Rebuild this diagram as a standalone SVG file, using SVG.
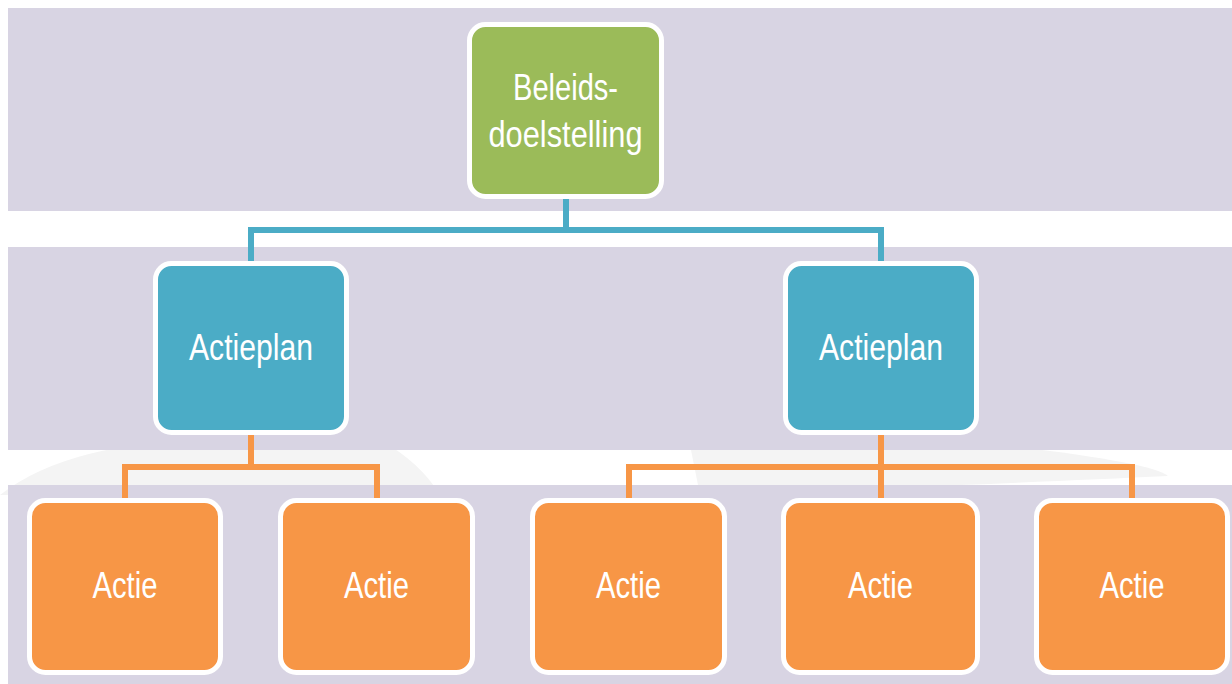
<svg xmlns="http://www.w3.org/2000/svg" width="1232" height="684" viewBox="0 0 1232 684">
<style>
.band{fill:#d8d4e3}
.node rect{stroke:#ffffff;stroke-width:5}
.green{fill:#9bbb59}
.blue{fill:#4bacc6}
.orange{fill:#f79646}
text{font-family:"Liberation Sans",Arial,sans-serif;font-size:36px;fill:#ffffff;text-anchor:middle}
.cb{stroke:#4bacc6;stroke-width:6;fill:none}
.co{stroke:#f79646;stroke-width:6;fill:none}
</style>
<rect x="0" y="0" width="1232" height="684" fill="#ffffff"/>
<g id="decor">
<path d="M0 495 Q70 440 220 440 L380 440 Q420 462 440 495 Z" fill="#f4f4f4"/>
<path d="M690 445 L1000 445 Q1150 462 1168 476 Q1000 484 700 495 Z" fill="#f4f4f4"/>
</g>
<g id="bands">
<rect class="band" x="8" y="8" width="1224" height="203"/>
<rect class="band" x="8" y="247" width="1224" height="203"/>
<rect class="band" x="8" y="485" width="1224" height="199"/>
</g>
<g id="connectors">
<path class="cb" d="M566 199 V230 M251 261 V230 H881 V261"/>
<path class="co" d="M251 435 V467 M125 498 V467 H377 V498"/>
<path class="co" d="M881 435 V467 M629 498 V467 H1132 V498 M881 467 V498"/>
</g>
<g id="n-beleid" class="node">
<rect class="green" x="469.5" y="24.5" width="192" height="172" rx="16"/>
<text x="565.5" y="100" textLength="105" lengthAdjust="spacingAndGlyphs">Beleids-</text>
<text x="565.5" y="147" textLength="154" lengthAdjust="spacingAndGlyphs">doelstelling</text>
</g>
<g id="n-plan1" class="node">
<rect class="blue" x="155.5" y="263.5" width="191" height="169" rx="16"/>
<text x="251" y="360" textLength="124" lengthAdjust="spacingAndGlyphs">Actieplan</text>
</g>
<g id="n-plan2" class="node">
<rect class="blue" x="785.5" y="263.5" width="191" height="169" rx="16"/>
<text x="881" y="360" textLength="124" lengthAdjust="spacingAndGlyphs">Actieplan</text>
</g>
<g id="n-actie1" class="node">
<rect class="orange" x="29.5" y="500.5" width="191" height="172" rx="16"/>
<text x="125" y="598" textLength="65" lengthAdjust="spacingAndGlyphs">Actie</text>
</g>
<g id="n-actie2" class="node">
<rect class="orange" x="280.5" y="500.5" width="192" height="172" rx="16"/>
<text x="376.5" y="598" textLength="65" lengthAdjust="spacingAndGlyphs">Actie</text>
</g>
<g id="n-actie3" class="node">
<rect class="orange" x="532.5" y="500.5" width="192" height="172" rx="16"/>
<text x="628.5" y="598" textLength="65" lengthAdjust="spacingAndGlyphs">Actie</text>
</g>
<g id="n-actie4" class="node">
<rect class="orange" x="783.5" y="500.5" width="194" height="172" rx="16"/>
<text x="880.5" y="598" textLength="65" lengthAdjust="spacingAndGlyphs">Actie</text>
</g>
<g id="n-actie5" class="node">
<rect class="orange" x="1036.5" y="500.5" width="191" height="172" rx="16"/>
<text x="1132" y="598" textLength="65" lengthAdjust="spacingAndGlyphs">Actie</text>
</g>
</svg>
